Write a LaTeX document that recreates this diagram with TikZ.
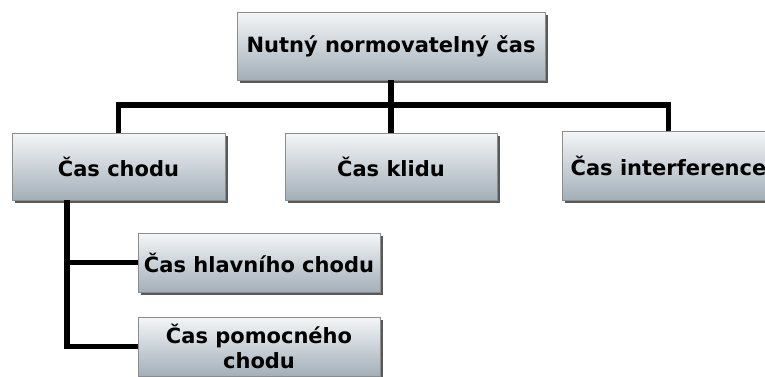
\documentclass[tikz,border=0pt]{standalone}
\usepackage{fontspec}
\setmainfont{DejaVu Sans}
\usetikzlibrary{shadows, positioning, calc}
\definecolor{boxtop}{HTML}{F4F6F7}
\definecolor{boxbot}{HTML}{A3AFB9}
\tikzset{box/.style={rectangle, draw=black!45, line width=0.8pt,
    top color=boxtop, bottom color=boxbot, inner sep=2pt,
    font=\fontsize{21}{25}\selectfont\bfseries, align=center,
    drop shadow={shadow xshift=3pt, shadow yshift=-3pt, fill=black!65, opacity=1}},
    conn/.style={draw, line width=5.5pt, black}}

\begin{document}
\begin{tikzpicture}[x=1pt, y=-1pt]
\useasboundingbox (0,0) rectangle (765,376);

% Top level
\node[box, minimum width=308pt, minimum height=68pt] (nutny) at (391,46) {Nutný normovatelný čas};

% Second level
\node[box, minimum width=213pt, minimum height=67pt] (chod) at (118.5,166.5) {Čas chodu};
\node[box, minimum width=212pt, minimum height=67pt] (klid) at (391,166.5) {Čas klidu};
\node[box, minimum width=213pt, minimum height=69pt] (interf) at (668.5,165.5) {Čas interference};

% Third level
\node[box, minimum width=242pt, minimum height=59pt] (hlavni) at (259,262.5) {Čas hlavního chodu};
\node[box, minimum width=242pt, minimum height=59pt] (pomocny) at (259,346.5) {Čas pomocného\\chodu};

% Bus and trunk points
\coordinate (bus) at (391,105);
\coordinate (trunk) at (67,200);

% Connectors
\draw[conn] (nutny.south) -- (bus);
\draw[conn] (bus) -| (chod.north);
\draw[conn] (bus) -| (interf.north);
\draw[conn] (bus) -- (klid.north);
\draw[conn] (trunk) |- (pomocny.west);
\draw[conn] (trunk |- hlavni.west) -- (hlavni.west);
\end{tikzpicture}
\end{document}
